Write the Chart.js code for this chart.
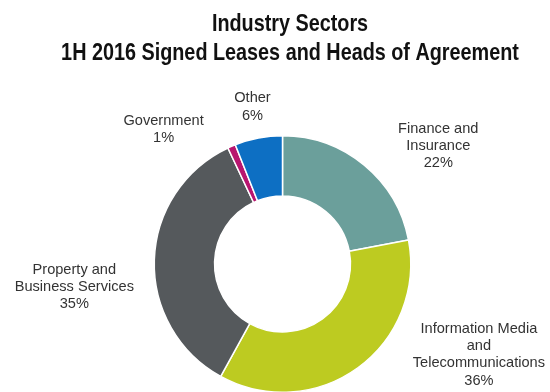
<!DOCTYPE html>
<html>
<head>
<meta charset="utf-8">
<title>Industry Sectors</title>
<script src="https://cdn.jsdelivr.net/npm/chart.js@4/dist/chart.umd.min.js"></script>
<style>
  html, body { margin: 0; padding: 0; background: #fff; overflow: hidden; }
  #sectors { display: block; }
</style>
</head>
<body>
<canvas id="sectors" width="550" height="400"></canvas>
<script>
// sectors in clockwise order starting at 12 o'clock
const sectorNames = [
    ["Finance and", "Insurance"],
    ["Information Media", "and", "Telecommunications"],
    ["Property and", "Business Services"],
    ["Government"],
    ["Other"],
];
const sectorShares = [22, 36, 35, 1, 6];
const titleLines = ["Industry Sectors", "1H 2016 Signed Leases and Heads of Agreement"];

const sectorColours = ["#6b9f9b", "#bdcb21", "#55595c", "#b8156f", "#0d6fc3"];

// label block centre = outer edge midpoint of the slice + nudge (px)
const labelNudge = [
    [74, -19],
    [121, -13],
    [-80, 27],
    [-68, -17],
    [-6, -31],
];
const LABEL_LINE = 17.2;

// no narrow font installed, so squeeze bold sans horizontally for the heading
const narrowTitle = {
    id: "narrowTitle",
    afterDraw(chart) {
        const ctx = chart.ctx;
        const squeeze = 0.825;
        ctx.save();
        ctx.font = "bold 24px 'Liberation Sans', Arial, sans-serif";
        ctx.fillStyle = "#111111";
        ctx.textAlign = "center";
        ctx.textBaseline = "alphabetic";
        ctx.translate(290, 0);
        ctx.scale(squeeze, 1);
        titleLines.forEach((t, k) => ctx.fillText(t, 0, 30.5 + k * 29.5));
        ctx.restore();
    },
};

const sliceLabels = {
    id: "sliceLabels",
    afterDatasetsDraw(chart) {
        const ctx = chart.ctx;
        const meta = chart.getDatasetMeta(0);
        ctx.save();
        ctx.font = "14.6px 'Liberation Sans', Arial, sans-serif";
        ctx.fillStyle = "#333333";
        ctx.textAlign = "center";
        ctx.textBaseline = "middle";
        meta.data.forEach((arc, i) => {
            const p = arc.getProps(["x", "y", "startAngle", "endAngle", "outerRadius"], true);
            const mid = (p.startAngle + p.endAngle) / 2;
            const cx = p.x + Math.cos(mid) * p.outerRadius + labelNudge[i][0];
            const cy = p.y + Math.sin(mid) * p.outerRadius + labelNudge[i][1];
            const lines = [...sectorNames[i], sectorShares[i] + "%"];
            const top = cy - ((lines.length - 1) * LABEL_LINE) / 2;
            lines.forEach((t, k) => ctx.fillText(t, cx, top + k * LABEL_LINE));
        });
        ctx.restore();
    },
};

new Chart(document.getElementById("sectors"), {
    type: "doughnut",
    data: {
        labels: sectorNames.map((n) => n.join(" ")),
        datasets: [
            {
                data: sectorShares,
                backgroundColor: sectorColours,
                borderColor: "#ffffff",
                borderWidth: 1.5,
            },
        ],
    },
    options: {
        responsive: false,
        animation: false,
        cutout: "53%",
        layout: { padding: { left: 15, right: 0, top: 135, bottom: 7 } },
        plugins: {
            legend: { display: false },
            tooltip: { enabled: false },
            title: { display: false },
        },
    },
    plugins: [sliceLabels, narrowTitle],
});
</script>
</body>
</html>
